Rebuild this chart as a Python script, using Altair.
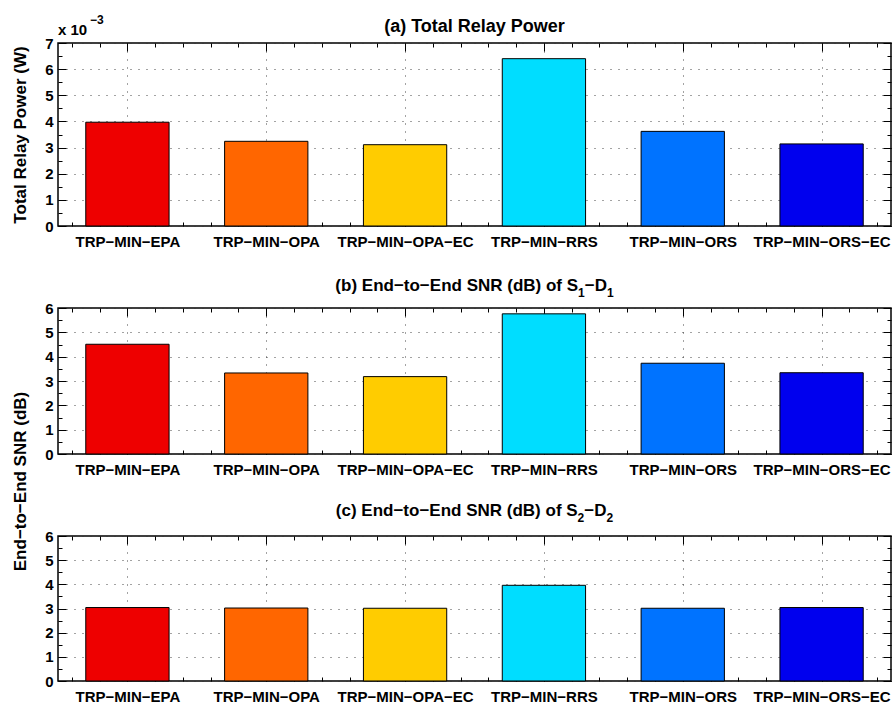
import json
import altair as alt
import pandas as pd

# ---------------- data ----------------
CATEGORIES = ["TRP−MIN−EPA", "TRP−MIN−OPA", "TRP−MIN−OPA−EC",
              "TRP−MIN−RRS", "TRP−MIN−ORS", "TRP−MIN−ORS−EC"]
POSITIONS = [1, 2, 3, 4, 5, 6]
COLORS = ["#EE0000", "#FF6600", "#FFCC00", "#00DDFF", "#0073FF", "#0000EE"]

POWER_E3 = [3.97, 3.24, 3.11, 6.40, 3.62, 3.14]   # x 10^-3 W
SNR_S1D1 = [4.51, 3.33, 3.18, 5.76, 3.73, 3.34]
SNR_S2D2 = [3.04, 3.02, 3.01, 3.96, 3.01, 3.04]

# titles: (main text, subscript, middle text)  -> main + sub + mid + sub
TITLE_A = "(a) Total Relay Power"
TITLE_B = ("(b) End−to−End SNR (dB) of S", "1", "−D")
TITLE_C = ("(c) End−to−End SNR (dB) of S", "2", "−D")
Y_TITLE_A = "Total Relay Power (W)"
Y_TITLE_SNR = "End−to−End SNR (dB)"
SCALE_BASE = "x 10"
SCALE_EXP = "−3"

X_MAJOR = [1, 2, 3, 4, 5, 6]
X_MINOR = [0.6, 0.8, 1.0, 1.2, 1.4, 1.6, 1.8, 2.0, 2.2, 2.4, 2.6, 2.8, 3.0,
           3.2, 3.4, 3.6, 3.8, 4.0, 4.2, 4.4, 4.6, 4.8, 5.0, 5.2, 5.4, 5.6,
           5.8, 6.0, 6.2, 6.4]
Y_MAJOR_A = [0, 1, 2, 3, 4, 5, 6, 7]
Y_MINOR_A = [0, 0.5, 1, 1.5, 2, 2.5, 3, 3.5, 4, 4.5, 5, 5.5, 6, 6.5, 7]
Y_MAJOR_SNR = [0, 1, 2, 3, 4, 5, 6]
Y_MINOR_SNR = [0, 0.5, 1, 1.5, 2, 2.5, 3, 3.5, 4, 4.5, 5, 5.5, 6]

BAR_WIDTH = 0.6
FONT = "Liberation Sans"
W = 833
TITLE_SIZE = 17
SUB_SIZE = 12

# Liberation Sans Bold advance widths (per 1000 em), used to centre composed titles
CHAR_W = {"(": 333, ")": 333, " ": 278, "a": 556, "b": 611, "c": 556, "d": 611,
          "E": 667, "n": 611, "−": 584, "t": 333, "o": 611, "S": 667, "N": 722,
          "R": 722, "B": 722, "f": 333, "D": 722, "1": 556, "2": 556}


def text_w(s, size):
    return sum(CHAR_W[c] for c in s) * size / 1000.0


LABEL_EXPR = json.dumps(CATEGORIES) + "[round(datum.value) - 1]"

GRID = dict(grid=True, gridDash=[1, 7], gridColor="#333333", gridWidth=1, gridOpacity=0.9)
NOGRID = dict(grid=False)
TICK = dict(domain=False, tickColor="black", tickWidth=1,
            labelFont=FONT, labelFontSize=15, labelFontWeight="bold", labelColor="black")


def text_layer(txt, x, y, size, align="left"):
    return alt.Chart(pd.DataFrame({"t": [txt]})).mark_text(
        align=align, baseline="alphabetic", font=FONT, fontSize=size,
        fontWeight="bold", color="black"
    ).encode(x=alt.value(x), y=alt.value(y), text="t:N")


def title_layers(title, y):
    if isinstance(title, str):
        return [text_layer(title, W / 2, y, 18, align="center")]
    main, sub, mid = title
    total = (text_w(main, TITLE_SIZE) + 2 * text_w(sub, SUB_SIZE)
             + text_w(mid, TITLE_SIZE))
    x0 = W / 2 - total / 2
    x1 = x0 + text_w(main, TITLE_SIZE)
    x2 = x1 + text_w(sub, SUB_SIZE)
    x3 = x2 + text_w(mid, TITLE_SIZE)
    return [text_layer(main, x0, y, TITLE_SIZE),
            text_layer(sub, x1, y + 6, SUB_SIZE),
            text_layer(mid, x2, y, TITLE_SIZE),
            text_layer(sub, x3, y + 6, SUB_SIZE)]


def panel(values, title, title_y, ymax, ymajor, yminor, height,
          ytitle=None, ytitle_y=None, note=False):
    df = pd.DataFrame({"name": CATEGORIES, "pos": POSITIONS, "value": values})
    xs = alt.Scale(domain=[0.5, 6.5], nice=False, zero=False, padding=0)
    ys = alt.Scale(domain=[0, ymax], nice=False, padding=0)
    base = alt.Chart(df)

    yaxis_kw = dict(orient="left", values=ymajor, tickSize=8, offset=-8,
                    labelPadding=5, format="d", **GRID, **TICK)
    if ytitle:
        yaxis_kw.update(title=ytitle, titleFont=FONT, titleFontSize=17,
                        titleFontWeight="bold", titleColor="black",
                        titleAngle=270, titleAlign="center", titleBaseline="middle",
                        titleX=-46, titleY=ytitle_y)
    else:
        yaxis_kw.update(title=None)

    bars = base.transform_calculate(
        x0=f"datum.pos - {BAR_WIDTH / 2}", x1=f"datum.pos + {BAR_WIDTH / 2}"
    ).mark_bar(stroke="black", strokeWidth=1).encode(
        x=alt.X("x0:Q", scale=xs,
                axis=alt.Axis(orient="bottom", values=X_MAJOR, tickSize=8, offset=-8,
                              labelExpr=LABEL_EXPR, labelPadding=8, title=None,
                              **GRID, **TICK)),
        x2="x1:Q",
        y=alt.Y("value:Q", scale=ys, axis=alt.Axis(**yaxis_kw)),
        y2=alt.datum(0),
        color=alt.Color("name:N", scale=alt.Scale(domain=CATEGORIES, range=COLORS),
                        legend=None),
    )

    def ghost(xorient, yorient, xvals, yvals, size):
        return base.mark_point(opacity=0).encode(
            x=alt.X("pos:Q", scale=xs,
                    axis=alt.Axis(orient=xorient, values=xvals, tickSize=size,
                                  offset=-size, labels=False, title=None,
                                  **NOGRID, **TICK)),
            y=alt.Y("value:Q", scale=ys,
                    axis=alt.Axis(orient=yorient, values=yvals, tickSize=size,
                                  offset=-size, labels=False, title=None,
                                  **NOGRID, **TICK)),
        )

    layers = [bars,
              ghost("bottom", "left", X_MINOR, yminor, 4),
              ghost("top", "right", X_MAJOR, ymajor, 8),
              ghost("top", "right", X_MINOR, yminor, 4)]
    layers += title_layers(title, title_y)

    if note:
        layers += [text_layer(SCALE_BASE, 0, -8, 15),
                   text_layer(SCALE_EXP, 32, -19, 12)]

    return alt.layer(*layers).resolve_axis(x="independent", y="independent").properties(
        width=W, height=height,
    )


pa = panel(POWER_E3, TITLE_A, -11.5, 7, Y_MAJOR_A, Y_MINOR_A, 183,
           ytitle=Y_TITLE_A, ytitle_y=91.5, note=True)
pb = panel(SNR_S1D1, TITLE_B, -17, 6, Y_MAJOR_SNR, Y_MINOR_SNR, 146,
           ytitle=Y_TITLE_SNR, ytitle_y=173)
pc = panel(SNR_S2D2, TITLE_C, -20, 6, Y_MAJOR_SNR, Y_MINOR_SNR, 145)

chart = alt.vconcat(pa, pb, pc, spacing=82, bounds="flush").configure_view(
    stroke="black", strokeWidth=1.5
).properties(
    padding={"left": 10, "top": 13, "right": 2, "bottom": 2},
    background="white",
)

chart.save("out.html", embed_options={"renderer": "svg", "actions": False})
